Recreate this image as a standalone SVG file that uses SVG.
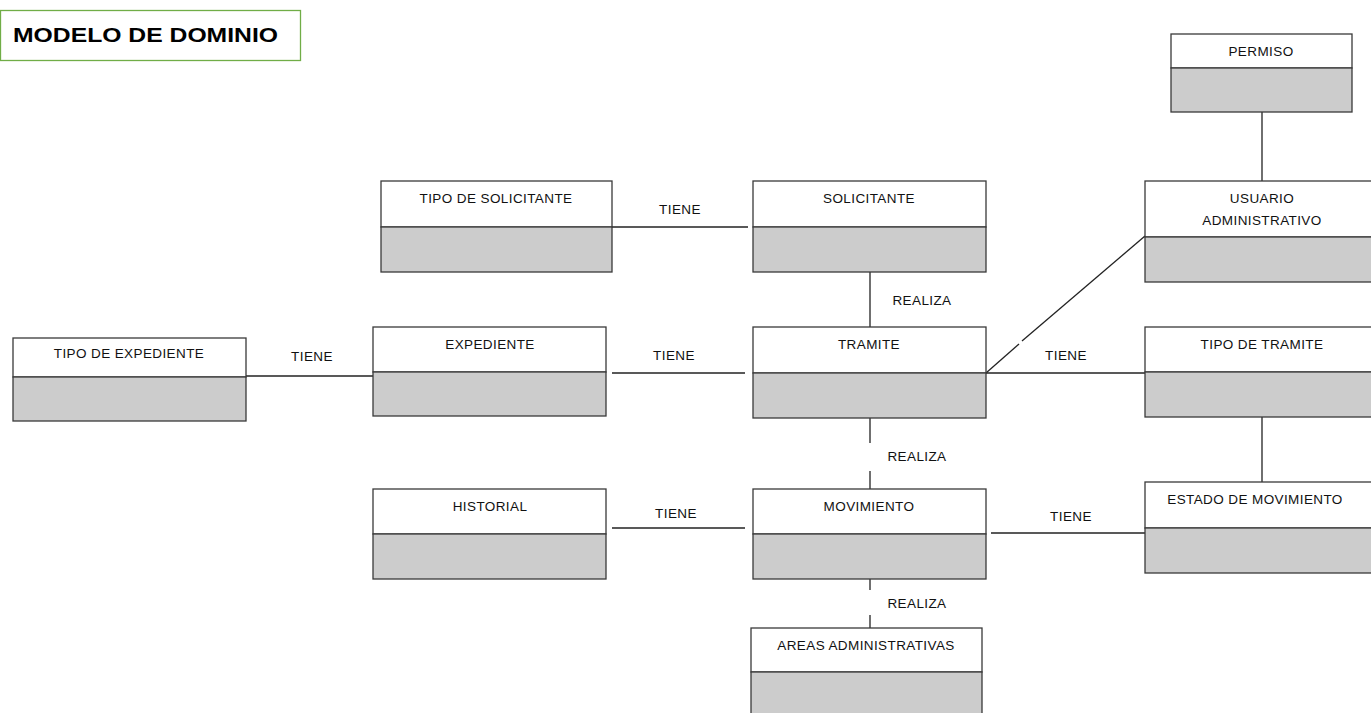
<svg xmlns="http://www.w3.org/2000/svg" width="1371" height="713" viewBox="0 0 1371 713">
<style>
.hd{fill:#ffffff;stroke:#3a3a3a;stroke-width:1.3}
.bd{fill:#cccccc;stroke:#3a3a3a;stroke-width:1.3}
.t{font-family:"Liberation Sans",Arial,sans-serif;font-size:13.5px;letter-spacing:0.4px;fill:#111;text-anchor:middle}
.l{font-family:"Liberation Sans",Arial,sans-serif;font-size:13.5px;letter-spacing:0.4px;fill:#111;text-anchor:middle}
.c{stroke:#222;stroke-width:1.3;fill:none}
</style>
<rect width="1371" height="713" fill="#ffffff"/>
<g id="title">
<rect x="0.5" y="10.5" width="300" height="50" fill="#ffffff" stroke="#70ad47" stroke-width="1.3"/>
<text x="13" y="42" font-family="'Liberation Sans',Arial,sans-serif" font-size="21" font-weight="bold" fill="#000" textLength="265" lengthAdjust="spacingAndGlyphs">MODELO DE DOMINIO</text>
</g>
<g id="connectors">
<line class="c" x1="1262" y1="112" x2="1262" y2="181"/>
<line class="c" x1="612" y1="227" x2="748" y2="227"/>
<line class="c" x1="870" y1="272" x2="870" y2="327"/>
<line class="c" x1="246" y1="376" x2="378" y2="376"/>
<line class="c" x1="612" y1="373" x2="745" y2="373"/>
<line class="c" x1="986" y1="373" x2="1145" y2="373"/>
<line class="c" x1="986" y1="373" x2="1019" y2="344"/>
<line class="c" x1="1022" y1="341" x2="1145" y2="236"/>
<line class="c" x1="870" y1="418" x2="870" y2="443"/>
<line class="c" x1="870" y1="471" x2="870" y2="489"/>
<line class="c" x1="612" y1="528" x2="745" y2="528"/>
<line class="c" x1="991" y1="533" x2="1150" y2="533"/>
<line class="c" x1="870" y1="579" x2="870" y2="590"/>
<line class="c" x1="870" y1="615" x2="870" y2="628"/>
<line class="c" x1="1262" y1="417" x2="1262" y2="482"/>
<text class="l" x="680" y="214">TIENE</text>
<text class="l" x="922" y="305">REALIZA</text>
<text class="l" x="312" y="361">TIENE</text>
<text class="l" x="674" y="360">TIENE</text>
<text class="l" x="1066" y="360">TIENE</text>
<text class="l" x="917" y="461">REALIZA</text>
<text class="l" x="676" y="518">TIENE</text>
<text class="l" x="1071" y="521">TIENE</text>
<text class="l" x="917" y="608">REALIZA</text>
</g>
<g id="permiso">
<rect class="hd" x="1171" y="34" width="181" height="34"/>
<rect class="bd" x="1171" y="68" width="181" height="44"/>
<text class="t" x="1261" y="56">PERMISO</text>
</g>
<g id="usuario-administrativo">
<rect class="hd" x="1145" y="181" width="240" height="56"/>
<rect class="bd" x="1145" y="237" width="240" height="45"/>
<text class="t" x="1262" y="203">USUARIO</text>
<text class="t" x="1262" y="225">ADMINISTRATIVO</text>
</g>
<g id="tipo-de-tramite">
<rect class="hd" x="1145" y="327" width="240" height="45"/>
<rect class="bd" x="1145" y="372" width="240" height="45"/>
<text class="t" x="1262" y="349">TIPO DE TRAMITE</text>
</g>
<g id="estado-de-movimiento">
<rect class="hd" x="1145" y="482" width="240" height="46"/>
<rect class="bd" x="1145" y="528" width="240" height="45"/>
<text class="t" x="1255" y="504">ESTADO DE MOVIMIENTO</text>
</g>
<g id="tipo-de-solicitante">
<rect class="hd" x="381" y="181" width="231" height="46"/>
<rect class="bd" x="381" y="227" width="231" height="45"/>
<text class="t" x="496" y="203">TIPO DE SOLICITANTE</text>
</g>
<g id="solicitante">
<rect class="hd" x="753" y="181" width="233" height="46"/>
<rect class="bd" x="753" y="227" width="233" height="45"/>
<text class="t" x="869" y="203">SOLICITANTE</text>
</g>
<g id="tipo-de-expediente">
<rect class="hd" x="13" y="338" width="233" height="39"/>
<rect class="bd" x="13" y="377" width="233" height="44"/>
<text class="t" x="129" y="358">TIPO DE EXPEDIENTE</text>
</g>
<g id="expediente">
<rect class="hd" x="373" y="327" width="233" height="45"/>
<rect class="bd" x="373" y="372" width="233" height="44"/>
<text class="t" x="490" y="349">EXPEDIENTE</text>
</g>
<g id="tramite">
<rect class="hd" x="753" y="327" width="233" height="46"/>
<rect class="bd" x="753" y="373" width="233" height="45"/>
<text class="t" x="869" y="349">TRAMITE</text>
</g>
<g id="historial">
<rect class="hd" x="373" y="489" width="233" height="45"/>
<rect class="bd" x="373" y="534" width="233" height="45"/>
<text class="t" x="490" y="511">HISTORIAL</text>
</g>
<g id="movimiento">
<rect class="hd" x="753" y="489" width="233" height="45"/>
<rect class="bd" x="753" y="534" width="233" height="45"/>
<text class="t" x="869" y="511">MOVIMIENTO</text>
</g>
<g id="areas-administrativas">
<rect class="hd" x="751" y="628" width="231" height="44"/>
<rect class="bd" x="751" y="672" width="231" height="50"/>
<text class="t" x="866" y="650">AREAS ADMINISTRATIVAS</text>
</g>
</svg>
